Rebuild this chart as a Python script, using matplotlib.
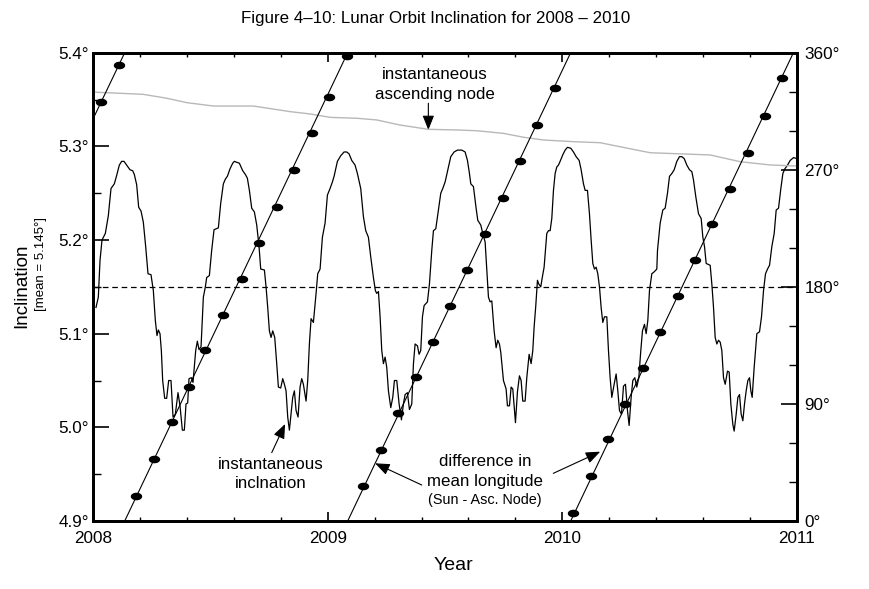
import matplotlib
matplotlib.use("Agg")
import matplotlib.pyplot as plt
from matplotlib.ticker import MultipleLocator
from matplotlib.path import Path
from matplotlib.transforms import Affine2D

plt.rcParams['font.family'] = ['Liberation Sans', 'DejaVu Sans']

# ---------------- data ----------------
inc_year = [
    2008.0115, 2008.0214, 2008.0286, 2008.0371, 2008.0513, 2008.0641, 2008.0755, 2008.0897, 2008.0997, 2008.1110,
    2008.1210, 2008.1309, 2008.1423, 2008.1565, 2008.1679, 2008.1750, 2008.1850, 2008.1935, 2008.2035, 2008.2134,
    2008.2234, 2008.2333, 2008.2461, 2008.2561, 2008.2646, 2008.2717, 2008.2774, 2008.2845, 2008.2902, 2008.2959,
    2008.3044, 2008.3129, 2008.3215, 2008.3314, 2008.3400, 2008.3499, 2008.3613, 2008.3698, 2008.3798, 2008.3883,
    2008.3954, 2008.4025, 2008.4082, 2008.4182, 2008.4253, 2008.4367, 2008.4438, 2008.4509, 2008.4595, 2008.4694,
    2008.4779, 2008.4836, 2008.4950, 2008.5049, 2008.5149, 2008.5334, 2008.5433, 2008.5547, 2008.5632, 2008.5718,
    2008.5831, 2008.5945, 2008.6016, 2008.6116, 2008.6230, 2008.6372, 2008.6486, 2008.6571, 2008.6657, 2008.6756,
    2008.6870, 2008.6970, 2008.7069, 2008.7140, 2008.7297, 2008.7368, 2008.7439, 2008.7510, 2008.7581, 2008.7652,
    2008.7738, 2008.7823, 2008.7894, 2008.7994, 2008.8079, 2008.8150, 2008.8221, 2008.8292, 2008.8363, 2008.8434,
    2008.8505, 2008.8577, 2008.8648, 2008.8733, 2008.8818, 2008.8889, 2008.8960, 2008.9074, 2008.9145, 2008.9216,
    2008.9288, 2008.9387, 2008.9501, 2008.9572, 2008.9672, 2008.9771, 2008.9885, 2008.9985, 2009.0098, 2009.0198,
    2009.0269, 2009.0411, 2009.0553, 2009.0695, 2009.0809, 2009.0909, 2009.1022, 2009.1164, 2009.1264, 2009.1406,
    2009.1520, 2009.1619, 2009.1733, 2009.1833, 2009.1947, 2009.2030, 2009.2089, 2009.2161, 2009.2232, 2009.2303,
    2009.2374, 2009.2445, 2009.2516, 2009.2587, 2009.2687, 2009.2772, 2009.2843, 2009.2943, 2009.3042, 2009.3142,
    2009.3227, 2009.3298, 2009.3398, 2009.3483, 2009.3583, 2009.3654, 2009.3725, 2009.3825, 2009.3895, 2009.3966,
    2009.4038, 2009.4109, 2009.4251, 2009.4336, 2009.4436, 2009.4507, 2009.4607, 2009.4720, 2009.4820, 2009.4905,
    2009.5005, 2009.5147, 2009.5246, 2009.5389, 2009.5531, 2009.5716, 2009.5858, 2009.5957, 2009.6043, 2009.6100,
    2009.6213, 2009.6327, 2009.6398, 2009.6526, 2009.6611, 2009.6711, 2009.6782, 2009.6853, 2009.6924, 2009.6996,
    2009.7095, 2009.7180, 2009.7251, 2009.7322, 2009.7379, 2009.7493, 2009.7606, 2009.7663, 2009.7749, 2009.7820,
    2009.7891, 2009.8005, 2009.8090, 2009.8175, 2009.8246, 2009.8317, 2009.8417, 2009.8488, 2009.8588, 2009.8673,
    2009.8744, 2009.8801, 2009.8872, 2009.8943, 2009.9000, 2009.9085, 2009.9142, 2009.9227, 2009.9299, 2009.9341,
    2009.9413, 2009.9484, 2009.9555, 2009.9626, 2009.9697, 2009.9768, 2009.9839, 2009.9910, 2010.0024, 2010.0124,
    2010.0222, 2010.0365, 2010.0479, 2010.0593, 2010.0721, 2010.0806, 2010.0906, 2010.0977, 2010.1076, 2010.1161,
    2010.1233, 2010.1304, 2010.1375, 2010.1446, 2010.1517, 2010.1588, 2010.1659, 2010.1730, 2010.1801, 2010.1901,
    2010.1972, 2010.2043, 2010.2114, 2010.2214, 2010.2299, 2010.2370, 2010.2441, 2010.2526, 2010.2612, 2010.2697,
    2010.2782, 2010.2853, 2010.2939, 2010.3010, 2010.3095, 2010.3180, 2010.3266, 2010.3351, 2010.3422, 2010.3508,
    2010.3579, 2010.3650, 2010.3721, 2010.3821, 2010.3920, 2010.4034, 2010.4063, 2010.4177, 2010.4290, 2010.4390,
    2010.4489, 2010.4575, 2010.4674, 2010.4774, 2010.4888, 2010.5001, 2010.5101, 2010.5200, 2010.5314, 2010.5428,
    2010.5528, 2010.5599, 2010.5698, 2010.5812, 2010.5926, 2010.5997, 2010.6068, 2010.6139, 2010.6310, 2010.6381,
    2010.6452, 2010.6523, 2010.6594, 2010.6665, 2010.6736, 2010.6807, 2010.6878, 2010.6950, 2010.7049, 2010.7120,
    2010.7191, 2010.7277, 2010.7333, 2010.7419, 2010.7490, 2010.7561, 2010.7632, 2010.7703, 2010.7774, 2010.7845,
    2010.7917, 2010.7988, 2010.8044, 2010.8101, 2010.8186, 2010.8300, 2010.8414, 2010.8499, 2010.8585, 2010.8670,
    2010.8755, 2010.8841, 2010.8940, 2010.9040, 2010.9125, 2010.9225, 2010.9324, 2010.9410, 2010.9495, 2010.9609,
    2010.9723, 2010.9865, 2011.0000,
]
inc_value = [
    5.128, 5.139, 5.178, 5.200, 5.207, 5.226, 5.255, 5.260, 5.269, 5.280,
    5.284, 5.284, 5.280, 5.275, 5.274, 5.270, 5.259, 5.235, 5.231, 5.219,
    5.193, 5.164, 5.163, 5.146, 5.114, 5.098, 5.104, 5.100, 5.082, 5.050,
    5.031, 5.031, 5.050, 5.050, 5.011, 5.014, 5.037, 5.023, 4.997, 4.997,
    5.025, 5.026, 5.052, 5.053, 5.048, 5.082, 5.092, 5.083, 5.086, 5.139,
    5.150, 5.160, 5.162, 5.189, 5.211, 5.213, 5.239, 5.260, 5.265, 5.268,
    5.276, 5.282, 5.284, 5.283, 5.282, 5.274, 5.270, 5.266, 5.253, 5.234,
    5.230, 5.216, 5.193, 5.169, 5.168, 5.150, 5.128, 5.103, 5.096, 5.103,
    5.096, 5.068, 5.043, 5.042, 5.052, 5.046, 5.039, 5.011, 4.997, 5.014,
    5.032, 5.039, 5.018, 5.011, 5.043, 5.052, 5.046, 5.028, 5.050, 5.089,
    5.116, 5.112, 5.143, 5.164, 5.169, 5.203, 5.218, 5.248, 5.255, 5.262,
    5.268, 5.284, 5.290, 5.294, 5.294, 5.292, 5.285, 5.280, 5.271, 5.255,
    5.225, 5.210, 5.203, 5.182, 5.160, 5.146, 5.143, 5.145, 5.118, 5.082,
    5.068, 5.075, 5.064, 5.039, 5.021, 5.032, 5.050, 5.050, 5.025, 5.008,
    5.025, 5.035, 5.037, 5.019, 5.025, 5.068, 5.089, 5.087, 5.078, 5.082,
    5.118, 5.130, 5.134, 5.153, 5.189, 5.210, 5.212, 5.232, 5.250, 5.255,
    5.262, 5.278, 5.289, 5.294, 5.296, 5.296, 5.294, 5.285, 5.271, 5.260,
    5.257, 5.234, 5.221, 5.216, 5.207, 5.198, 5.168, 5.139, 5.134, 5.135,
    5.103, 5.085, 5.093, 5.089, 5.080, 5.050, 5.041, 5.023, 5.023, 5.043,
    5.041, 5.005, 5.038, 5.055, 5.050, 5.028, 5.028, 5.053, 5.078, 5.068,
    5.082, 5.107, 5.130, 5.157, 5.153, 5.150, 5.159, 5.171, 5.193, 5.207,
    5.210, 5.210, 5.223, 5.253, 5.271, 5.278, 5.280, 5.284, 5.291, 5.296,
    5.299, 5.298, 5.294, 5.289, 5.285, 5.275, 5.260, 5.253, 5.253, 5.228,
    5.200, 5.175, 5.169, 5.171, 5.164, 5.150, 5.128, 5.112, 5.118, 5.118,
    5.082, 5.053, 5.032, 5.046, 5.057, 5.039, 5.018, 5.014, 5.044, 5.046,
    5.018, 5.002, 5.032, 5.050, 5.053, 5.043, 5.053, 5.082, 5.103, 5.110,
    5.100, 5.114, 5.146, 5.164, 5.166, 5.169, 5.189, 5.218, 5.232, 5.234,
    5.250, 5.268, 5.271, 5.275, 5.284, 5.289, 5.289, 5.287, 5.280, 5.275,
    5.273, 5.264, 5.246, 5.228, 5.223, 5.203, 5.193, 5.175, 5.173, 5.153,
    5.128, 5.096, 5.089, 5.093, 5.091, 5.082, 5.053, 5.046, 5.060, 5.059,
    5.025, 5.003, 4.996, 5.014, 5.032, 5.035, 5.014, 5.007, 5.025, 5.039,
    5.050, 5.053, 5.039, 5.032, 5.064, 5.100, 5.102, 5.118, 5.146, 5.164,
    5.169, 5.173, 5.193, 5.207, 5.232, 5.234, 5.255, 5.271, 5.276, 5.280,
    5.285, 5.288, 5.287,
]
inc_mean = 5.15

# instantaneous ascending node (right axis, degrees)
node_year = [2008.000, 2008.012, 2008.213, 2008.313, 2008.399, 2008.512, 2008.683, 2008.839, 2008.925,
             2009.010, 2009.124, 2009.209, 2009.308, 2009.429, 2009.550, 2009.636, 2009.749, 2009.835,
             2009.920, 2010.048, 2010.162, 2010.247, 2010.375, 2010.631, 2010.759, 2010.887, 2011.000]
node_deg = [330.0, 329.6, 328.0, 325.0, 321.6, 319.0, 319.0, 314.7, 312.9,
            310.3, 309.6, 308.3, 304.4, 301.1, 300.6, 300.0, 298.0, 295.0,
            292.9, 291.6, 290.8, 287.7, 283.1, 281.4, 276.2, 273.7, 272.9]

# difference in mean longitude (Sun - Asc. Node): straight runs between wraps
lon_start_year = [2008.000, 2008.134, 2009.085, 2010.036]
lon_start_deg = [309.5, 0.0, 0.0, 0.0]
lon_end_year = [2008.134, 2009.085, 2010.036, 2010.986]
lon_end_deg = [360.0, 360.0, 360.0, 360.0]

dot_year = [2008.0328, 2008.1096, 2008.1822, 2008.2602, 2008.3345, 2008.4083, 2008.4778, 2008.5533,
            2008.6323, 2008.7082, 2008.7824, 2008.8562, 2008.9309, 2009.0055, 2009.0802, 2009.1519,
            2009.2265, 2009.3012, 2009.3754, 2009.4480, 2009.5230, 2009.5956, 2009.6724, 2009.7479,
            2009.8204, 2009.8929, 2009.9676, 2010.0478, 2010.1224, 2010.1971, 2010.2684, 2010.3439,
            2010.4168, 2010.4932, 2010.5683, 2010.6408, 2010.7163, 2010.7910, 2010.8644, 2010.9394]
dot_deg = [321.8, 350.5, 19.5, 47.9, 76.3, 103.2, 131.5, 158.4,
           185.8, 213.5, 241.6, 269.8, 298.3, 326.0, 357.5, 26.7,
           54.6, 82.8, 110.7, 137.8, 165.5, 193.0, 220.4, 248.5,
           276.8, 304.8, 332.9, 5.9, 34.4, 62.8, 89.9, 117.4,
           145.5, 173.0, 200.4, 228.1, 255.5, 283.1, 311.6, 340.8]

year_ticks = [2008, 2009, 2010, 2011]
year_labels = ['2008', '2009', '2010', '2011']
inc_ticks = [4.9, 5.0, 5.1, 5.2, 5.3, 5.4]
inc_labels = ['4.9°', '5.0°', '5.1°', '5.2°', '5.3°', '5.4°']
deg_ticks = [0, 90, 180, 270, 360]
deg_labels = ['0°', '90°', '180°', '270°', '360°']

# ---------------- figure ----------------
W, H = 869, 589
fig = plt.figure(figsize=(W / 100, H / 100), dpi=100)
L, R, T, B = 93.3, 796.7, 52.7, 521.0
ax = fig.add_axes([L / W, 1 - B / H, (R - L) / W, (B - T) / H])
ax2 = ax.twinx()

ax.set_xlim(2008, 2011)
ax.set_ylim(4.9, 5.4)
ax2.set_ylim(0, 360)

# gray node line (right axis)
ax2.plot(node_year, node_deg, color='#b8b8b8', lw=1.0, zorder=1)

# inclination
ax.plot(inc_year, inc_value, color='black', lw=0.9, zorder=3)
ax.axhline(inc_mean, color='black', lw=0.9, dashes=(4.5, 3.0), zorder=2)

# mean-longitude difference lines and dots
for x0, y0, x1, y1 in zip(lon_start_year, lon_start_deg, lon_end_year, lon_end_deg):
    ax2.plot([x0, x1], [y0, y1], color='black', lw=0.8, zorder=3)
ell = Path.unit_circle().transformed(Affine2D().scale(1.0, 0.62))
ax2.plot(dot_year, dot_deg, linestyle='none', marker=ell, markersize=7.2,
         color='black', zorder=4, clip_on=False)

# ticks
ax.set_xticks(year_ticks)
ax.set_xticklabels(year_labels)
ax.xaxis.set_minor_locator(MultipleLocator(0.2))
ax.set_yticks(inc_ticks)
ax.set_yticklabels(inc_labels)
ax.yaxis.set_minor_locator(MultipleLocator(0.05))
ax2.set_yticks(deg_ticks)
ax2.set_yticklabels(deg_labels)
ax2.yaxis.set_minor_locator(MultipleLocator(30))

ax.tick_params(axis='x', which='major', direction='in', length=6.5, width=1.2,
               top=True, bottom=True, labelsize=12.3, pad=7.5)
ax.tick_params(axis='x', which='minor', direction='in', length=3.0, width=1.0,
               top=True, bottom=True)
ax.tick_params(axis='y', which='major', direction='in', length=11.5, width=1.2,
               left=True, right=False, labelsize=12.3, pad=3.0)
ax.tick_params(axis='y', which='minor', direction='in', length=5.8, width=1.0,
               left=True, right=False)
ax2.tick_params(axis='y', which='major', direction='in', length=11.5, width=1.2,
                left=False, right=True, labelsize=12.3, pad=5.5)
ax2.tick_params(axis='y', which='minor', direction='in', length=5.8, width=1.0,
                left=False, right=True)

for a in (ax, ax2):
    for s in a.spines.values():
        s.set_linewidth(2.0)

# annotations
arrow_kw = dict(arrowstyle='-|>,head_length=0.55,head_width=0.22', color='black',
                lw=0.8, shrinkA=0, shrinkB=0, mutation_scale=16)
fs = 12.2
ax.text(2009.458, 5.3762, 'instantaneous', ha='center', va='center', fontsize=fs)
ax.text(2009.458, 5.3556, 'ascending node', ha='center', va='center', fontsize=fs)
ax.annotate('', xy=(2009.429, 5.3175), xytext=(2009.429, 5.346), arrowprops=arrow_kw)

ax.text(2008.757, 4.9598, 'instantaneous', ha='center', va='center', fontsize=fs)
ax.text(2008.757, 4.9402, 'inclnation', ha='center', va='center', fontsize=fs)
ax.annotate('', xy=(2008.818, 5.0036), xytext=(2008.761, 4.973), arrowprops=arrow_kw)

ax.text(2009.671, 4.9633, 'difference in', ha='center', va='center', fontsize=fs)
ax.text(2009.671, 4.9420, 'mean longitude', ha='center', va='center', fontsize=fs)
ax.text(2009.671, 4.9224, '(Sun - Asc. Node)', ha='center', va='center', fontsize=10.4)
ax.annotate('', xy=(2009.202, 4.9616), xytext=(2009.401, 4.9384), arrowprops=arrow_kw)
ax.annotate('', xy=(2010.162, 4.974), xytext=(2009.962, 4.9509), arrowprops=arrow_kw)

# titles and labels
fig.text(436 / W, 1 - 18 / H, 'Figure 4\u201310: Lunar Orbit Inclination for 2008 \u2013 2010',
         ha='center', va='center', fontsize=12.2)
fig.text(453 / W, 1 - 565 / H, 'Year', ha='center', va='center', fontsize=14)
fig.text(21.7 / W, 1 - 285.8 / H, 'Inclination', ha='center', va='center',
         rotation=90, fontsize=13.6)
fig.text(41 / W, 1 - 264 / H, '[mean = 5.145°]', ha='center', va='center',
         rotation=90, fontsize=9.5)

fig.savefig('out.png', dpi=100)
